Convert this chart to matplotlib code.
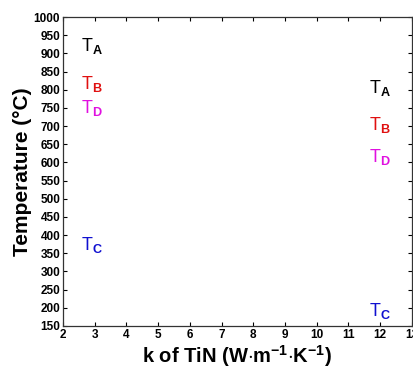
import matplotlib
matplotlib.use('Agg')
import matplotlib.pyplot as plt

plt.rcParams['font.family'] = ['Liberation Sans', 'DejaVu Sans']
plt.rcParams['mathtext.fontset'] = 'custom'
plt.rcParams['mathtext.rm'] = 'Liberation Sans'
plt.rcParams['mathtext.bf'] = 'Liberation Sans:bold'

# label positions (k of TiN, temperature)
labels = ['A', 'B', 'D', 'C']
colors = ['black', '#e01010', '#e010e0', '#1010d0']
k_left = [2.9, 2.9, 2.9, 2.9]
temp_left = [920, 815, 750, 372]
k_right = [12.0, 12.0, 12.0, 12.0]
temp_right = [805, 702, 615, 192]

fig = plt.figure(figsize=(4.14, 3.72), dpi=100)
ax = fig.add_axes([0.152, 0.124, 0.843, 0.830])

for lab, c, x, y in zip(labels, colors, k_left, temp_left):
    ax.text(x, y, r'T$_{\mathbf{' + lab + '}}$', color=c, fontsize=13,
            ha='center', va='center')
for lab, c, x, y in zip(labels, colors, k_right, temp_right):
    ax.text(x, y, r'T$_{\mathbf{' + lab + '}}$', color=c, fontsize=13,
            ha='center', va='center')

ax.set_xlim(2, 13)
ax.set_ylim(150, 1000)
ax.set_xticks(range(2, 14))
ax.set_yticks(range(150, 1001, 50))
ax.tick_params(direction='in', top=True, right=True, labelsize=8.5, length=3,
               width=0.8, pad=2)
for t in ax.get_xticklabels() + ax.get_yticklabels():
    t.set_fontweight('bold')
for s in ax.spines.values():
    s.set_color('#333333')
    s.set_linewidth(0.9)

ax.set_xlabel('k of TiN (W$\\cdot$m$^{\\mathbf{-1}}$$\\cdot$K$^{\\mathbf{-1}}$)',
              fontsize=14.5, fontweight='bold', labelpad=2)
ax.set_ylabel('Temperature (°C)', fontsize=15, fontweight='bold', labelpad=1)

fig.savefig('out.png', dpi=100)
